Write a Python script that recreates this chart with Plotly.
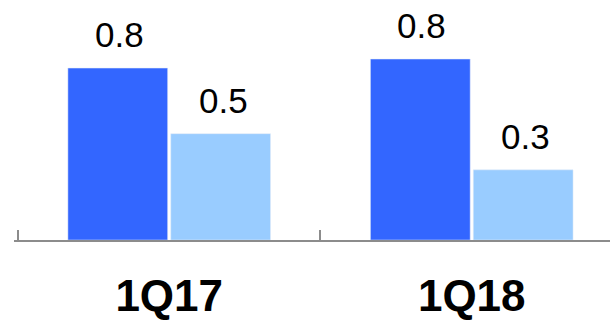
import plotly.graph_objects as go

# Quarterly comparison, two series per quarter
quarters = ["1Q17", "1Q18"]
series_a = [0.76, 0.80]
series_b = [0.47, 0.31]

dark_blue = "#3366FF"
light_blue = "#99CCFF"
axis_grey = "#8C8C8C"

fig = go.Figure()
fig.add_trace(go.Bar(x=quarters, y=series_a, marker_color=dark_blue, name="A"))
fig.add_trace(go.Bar(x=quarters, y=series_b, marker_color=light_blue, name="B"))

# Value labels above each bar, rounded to one decimal
label_font = dict(family="Liberation Sans, Arial, sans-serif", size=35, color="#000000")
for vals, shift in ((series_a, -52), (series_b, 52)):
    for q, v in zip(quarters, vals):
        fig.add_annotation(
            x=q, y=v, xref="x", yref="y",
            text=f"{v:.1f}", showarrow=False,
            xanchor="center", yanchor="bottom",
            xshift=shift + 2, yshift=12,
            font=label_font,
        )

fig.update_layout(
    width=610, height=320,
    margin=dict(l=14, r=0, t=0, b=76),
    paper_bgcolor="white", plot_bgcolor="white",
    barmode="group", bargap=0.32, bargroupgap=0.03,
    showlegend=False,
)
fig.update_xaxes(
    range=[-0.513, 1.457],
    showline=True, linecolor=axis_grey, linewidth=1.5,
    ticks="inside", tickson="boundaries", ticklen=10, tickwidth=1.5, tickcolor=axis_grey,
    tickfont=dict(family="Liberation Sans, Arial, sans-serif", size=44, color="#000000"),
    ticklabelstandoff=16,
    showgrid=False, zeroline=False,
)
fig.update_yaxes(range=[0, 244 / 230], visible=False, showgrid=False, zeroline=False)

fig.for_each_xaxis(lambda ax: ax.update(tickprefix="<b>", ticksuffix="</b>"))

fig.write_html("out.html")
